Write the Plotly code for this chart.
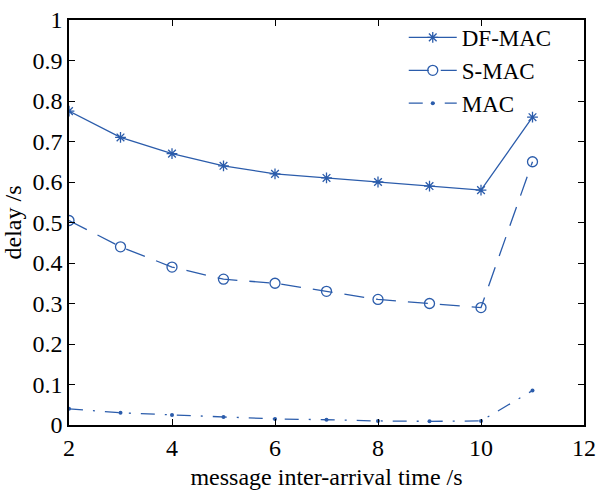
import plotly.graph_objects as go

x_vals = [2, 3, 4, 5, 6, 7, 8, 9, 10, 11]
df_mac = [0.775, 0.71, 0.67, 0.64, 0.62, 0.61, 0.60, 0.59, 0.58, 0.76]
s_mac = [0.505, 0.44, 0.39, 0.36, 0.35, 0.33, 0.31, 0.30, 0.29, 0.65]
mac = [0.04, 0.03, 0.025, 0.02, 0.015, 0.013, 0.01, 0.009, 0.01, 0.085]

x_ticks = [2, 4, 6, 8, 10, 12]
y_ticks = [0, 0.1, 0.2, 0.3, 0.4, 0.5, 0.6, 0.7, 0.8, 0.9, 1]
y_tick_text = ["0", "0.1", "0.2", "0.3", "0.4", "0.5", "0.6", "0.7", "0.8", "0.9", "1"]

color = "#2b5cab"
font_family = "Liberation Serif, Times New Roman, serif"

fig = go.Figure()
fig.add_trace(go.Scatter(
    x=x_vals, y=df_mac, name="DF-MAC", mode="lines+markers",
    line=dict(color=color, width=1.3, dash="solid"),
    marker=dict(symbol="asterisk-open", size=9, color=color, line=dict(color=color, width=1.3)),
))
fig.add_trace(go.Scatter(
    x=x_vals, y=s_mac, name="S-MAC", mode="lines+markers",
    line=dict(color=color, width=1.3, dash="20px,12px"),
    marker=dict(symbol="circle-open", size=10, color=color, line=dict(color=color, width=1.3)),
))
fig.add_trace(go.Scatter(
    x=x_vals, y=mac, name="MAC", mode="lines+markers",
    line=dict(color=color, width=1.3, dash="14px,10px,2px,10px"),
    marker=dict(symbol="circle", size=4, color=color),
))

axis_common = dict(
    showline=True, linecolor="black", linewidth=1.5, mirror="ticks",
    ticks="inside", ticklen=6, tickwidth=1, tickcolor="black",
    showgrid=False, zeroline=False, automargin=False,
    tickfont=dict(family=font_family, size=24, color="black"),
)

fig.update_layout(
    width=601, height=490,
    margin=dict(l=69, r=17, t=20, b=65),
    paper_bgcolor="white", plot_bgcolor="white",
    font=dict(family=font_family, size=24, color="black"),
    xaxis=dict(range=[2, 12], tickvals=x_ticks, **axis_common,
               title=dict(text="message inter-arrival time /s", font=dict(size=24), standoff=10)),
    yaxis=dict(range=[0, 1], tickvals=y_ticks, ticktext=y_tick_text, **axis_common,
               title=dict(text="delay /s", font=dict(size=24), standoff=5)),
    legend=dict(x=0.65, y=1.01, xanchor="left", yanchor="top",
                bgcolor="rgba(0,0,0,0)", borderwidth=0,
                font=dict(family=font_family, size=23, color="black"),
                itemwidth=48, tracegroupgap=0),
    showlegend=True,
)

fig.write_html("out.html")
